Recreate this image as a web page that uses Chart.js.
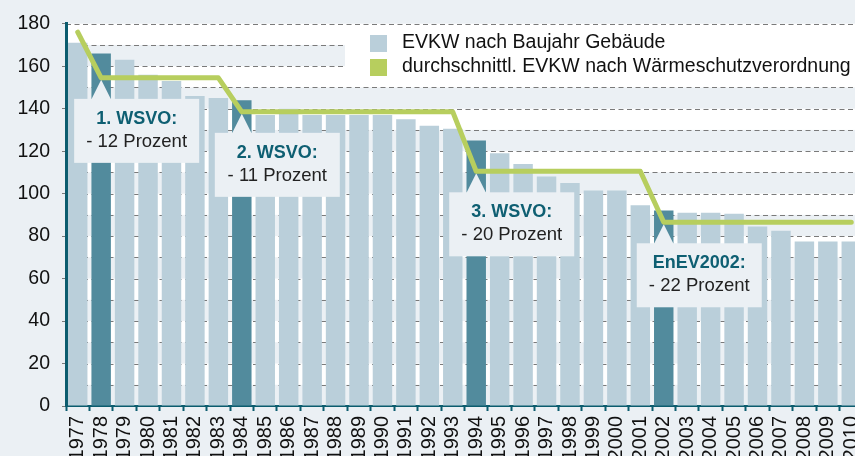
<!DOCTYPE html>
<html>
<head>
<meta charset="utf-8">
<script src="https://cdn.jsdelivr.net/npm/chart.js@4/dist/chart.umd.min.js"></script>
<style>
  html, body { margin: 0; padding: 0; background: #ebf0f4; overflow: hidden; width: 855px; height: 456px; }
  #wrap { position: absolute; left: 0; top: 0; width: 870px; height: 480px; }
</style>
</head>
<body>
<div id="wrap"><canvas id="c" width="870" height="480"></canvas></div>
<script>
const years = ['1977','1978','1979','1980','1981','1982','1983','1984','1985','1986','1987','1988','1989','1990','1991','1992','1993','1994','1995','1996','1997','1998','1999','2000','2001','2002','2003','2004','2005','2006','2007','2008','2009','2010'];
const evkwBaujahr = [171,166,163,156,153,146,145,144,137,140,137,137,137,137,135,132,130.5,125,119,114,108,105,101.5,101.5,94.5,92,91,91,90.5,84.5,82.5,77.5,77.5,77.5];
const evkwWsvo = [176,154.5,154.5,154.5,154.5,154.5,154.5,138.5,138.5,138.5,138.5,138.5,138.5,138.5,138.5,138.5,138.5,110.5,110.5,110.5,110.5,110.5,110.5,110.5,110.5,86.5,86.5,86.5,86.5,86.5,86.5,86.5,86.5,86.5];
const highlightYears = ['1978','1984','1994','2002'];
const annotTitles = ['1. WSVO:','2. WSVO:','3. WSVO:','EnEV2002:'];
const annotTexts = ['- 12 Prozent','- 11 Prozent','- 20 Prozent','- 22 Prozent'];
const legendLabels = ['EVKW nach Baujahr Gebäude','durchschnittl. EVKW nach Wärmeschutzverordnung'];
const yTicks = [0,20,40,60,80,100,120,140,160,180];

const BG = '#ebf0f4';
const LIGHT = '#bacfda';
const DARK = '#528b9d';
const GREEN = '#b7ce5e';
const TEAL = '#0e5f72';
const AXIS = '#0b5c6e';
const FONT = '"Liberation Sans", Arial, sans-serif';

const barColors = years.map(y => highlightYears.includes(y) ? DARK : LIGHT);

const bandsPlugin = {
  id: 'bands',
  beforeDraw(chart) {
    const {ctx, chartArea: a, scales: {y}} = chart;
    ctx.save();
    ctx.fillStyle = '#ffffff';
    ctx.fillRect(a.left, a.top, a.right - a.left, a.bottom - a.top);
    ctx.fillStyle = BG;
    for (let v = 0; v < 180; v += 20) {
      const y1 = y.getPixelForValue(v + 10), y0 = y.getPixelForValue(v);
      ctx.fillRect(a.left, y1, a.right - a.left, y0 - y1);
    }
    ctx.strokeStyle = '#7a7a7a';
    ctx.lineWidth = 1;
    ctx.setLineDash([5, 3.5]);
    for (let v = 10; v <= 180; v += 10) {
      const py = Math.round(y.getPixelForValue(v)) + 0.5;
      ctx.beginPath();
      ctx.moveTo(a.left, py);
      ctx.lineTo(a.right, py);
      ctx.stroke();
    }
    ctx.restore();
  }
};

const overlayPlugin = {
  id: 'overlay',
  afterDatasetDraw(chart, args) {
    if (args.index !== 0) return;
    const {ctx, chartArea: a, scales: {x, y}} = chart;
    ctx.save();
    // legend box
    ctx.fillStyle = '#ffffff';
    ctx.fillRect(345, 25, a.right - 345, 60);
    const sw = [LIGHT, GREEN];
    ctx.font = '19.5px ' + FONT;
    ctx.textBaseline = 'middle';
    ctx.textAlign = 'left';
    legendLabels.forEach((t, i) => {
      ctx.fillStyle = sw[i];
      ctx.fillRect(370, 35 + i * 24, 17, 17);
      ctx.fillStyle = '#111111';
      ctx.fillText(t, 402, 43 + i * 24);
    });
    // annotation boxes
    highlightYears.forEach((yr, i) => {
      const idx = years.indexOf(yr);
      const cx = x.getPixelForValue(idx);
      const ly = y.getPixelForValue(evkwWsvo[idx]);
      const top = ly + 21;
      const left = cx - 27;
      const w = 125, h = 64;
      ctx.fillStyle = BG;
      ctx.beginPath();
      ctx.moveTo(cx - 10, top + 1);
      ctx.lineTo(cx, ly + 2);
      ctx.lineTo(cx + 10, top + 1);
      ctx.closePath();
      ctx.fill();
      ctx.fillRect(left, top, w, h);
      ctx.textAlign = 'center';
      ctx.textBaseline = 'middle';
      ctx.font = 'bold 18px ' + FONT;
      ctx.fillStyle = TEAL;
      ctx.fillText(annotTitles[i], left + w / 2, top + 20);
      ctx.font = '18.5px ' + FONT;
      ctx.fillStyle = '#222222';
      ctx.fillText(annotTexts[i], left + w / 2, top + 43);
    });
    ctx.restore();
  }
};

new Chart(document.getElementById('c'), {
  data: {
    labels: years,
    datasets: [
      {
        type: 'bar',
        label: legendLabels[0],
        data: evkwBaujahr,
        backgroundColor: barColors,
        borderWidth: 0,
        categoryPercentage: 1,
        barPercentage: 0.83,
        order: 1
      },
      {
        type: 'line',
        label: legendLabels[1],
        data: evkwWsvo,
        borderColor: GREEN,
        borderWidth: 5,
        pointRadius: 0,
        tension: 0,
        borderJoinStyle: 'round',
        borderCapStyle: 'round',
        order: 0
      }
    ]
  },
  options: {
    responsive: false,
    animation: false,
    devicePixelRatio: 1,
    layout: { padding: { top: 23, right: 7, left: 0, bottom: 0 } },
    plugins: { legend: { display: false }, tooltip: { enabled: false } },
    scales: {
      x: {
        offset: true,
        grid: { display: true, offset: true, drawOnChartArea: false, drawTicks: true, tickLength: 5, tickColor: AXIS, tickWidth: 2 },
        border: { display: true, color: AXIS, width: 2 },
        ticks: { minRotation: 90, maxRotation: 90, autoSkip: false, padding: 5, color: '#111111', font: { family: FONT, size: 20 } },
        afterFit(s) { s.height = 74; s.paddingLeft = 0; s.paddingRight = 0; }
      },
      y: {
        min: 0, max: 180,
        ticks: {
          stepSize: 10,
          padding: 12,
          color: '#111111',
          font: { family: FONT, size: 19.5 },
          callback: v => yTicks.includes(v) ? String(v) : ''
        },
        grid: { drawOnChartArea: false, tickLength: 4, tickColor: '#7a7a7a', drawTicks: true },
        border: { display: true, color: AXIS, width: 3 },
        afterFit(s) { s.width = 66; }
      }
    }
  },
  plugins: [bandsPlugin, overlayPlugin]
});
</script>
</body>
</html>
